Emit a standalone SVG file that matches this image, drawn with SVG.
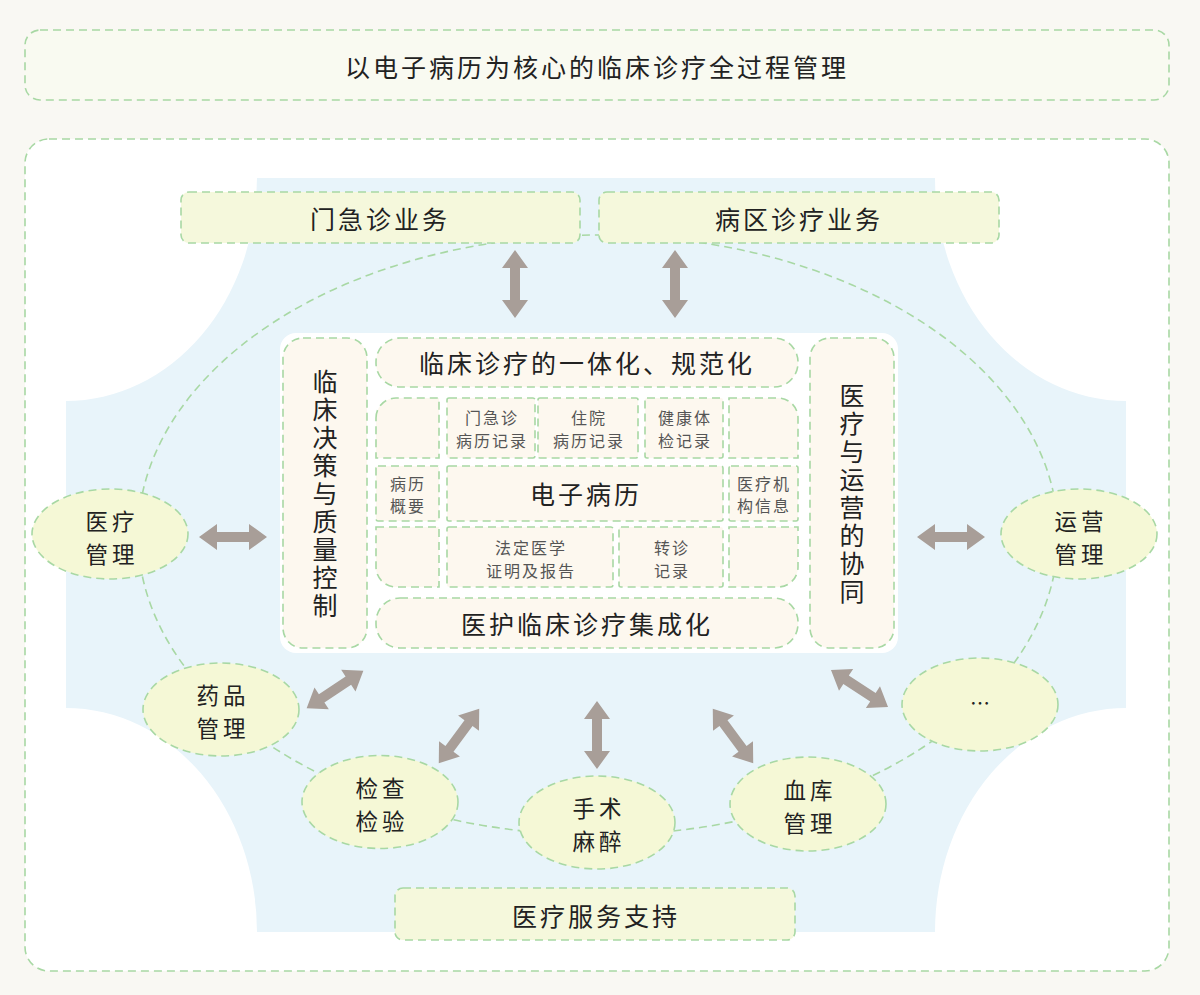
<svg xmlns="http://www.w3.org/2000/svg" xmlns:xlink="http://www.w3.org/1999/xlink" width="1200" height="995" viewBox="0 0 1200 995">
<style>
.dash{stroke:#a8d8a4;stroke-width:1.6;stroke-dasharray:8 5;}
.t{font-family:"Noto Sans CJK SC","Noto Sans",sans-serif;fill:#222;text-anchor:middle;dominant-baseline:central;}
.big{font-size:25px;letter-spacing:3px;}
.node{font-size:22.5px;letter-spacing:4px;}
.sm{font-size:16px;fill:#555;letter-spacing:2px;}
.vt{font-size:25px;writing-mode:vertical-rl;letter-spacing:3px;}
.cell{fill:#fdf8ef;}
.box{fill:#f5f8dc;}
.ell{fill:#f5f8d6;}
.arr{fill:#a89e98;}
</style>
<defs>
<path id="dbl" d="M-34,0 L-16,-13 L-16,-5 L16,-5 L16,-13 L34,0 L16,13 L16,5 L-16,5 L-16,13 Z"/>
</defs>
<rect x="0" y="0" width="1200" height="995" fill="#f9f8f3"/>
<g id="banner">
<rect x="25" y="30" width="1144" height="70" rx="15" fill="#f9faf1" class="dash"/>
<text class="t big" x="597" y="66">以电子病历为核心的临床诊疗全过程管理</text>
</g>
<g id="container">
<rect x="25" y="139" width="1144" height="832" rx="24" fill="#ffffff" class="dash"/>
<path d="M257,178 H935 A191,223 0 0 0 1126,401 V708 A191,224 0 0 0 935,932 H257 A191,224 0 0 0 66,708 V401 A191,223 0 0 0 257,178 Z" fill="#e8f4fa"/>
</g>
<g id="connectors">
<ellipse cx="598" cy="535" rx="460" ry="300" fill="none" class="dash"/>
<use xlink:href="#dbl" class="arr" transform="translate(515,284) rotate(90)"/>
<use xlink:href="#dbl" class="arr" transform="translate(675,284) rotate(90)"/>
<use xlink:href="#dbl" class="arr" transform="translate(233,537)"/>
<use xlink:href="#dbl" class="arr" transform="translate(951,537)"/>
<use xlink:href="#dbl" class="arr" transform="translate(335,689.5) rotate(-33.5)"/>
<use xlink:href="#dbl" class="arr" transform="translate(459,736) rotate(-53.5)"/>
<use xlink:href="#dbl" class="arr" transform="translate(597,735) rotate(90)"/>
<use xlink:href="#dbl" class="arr" transform="translate(733,736) rotate(53.5)"/>
<use xlink:href="#dbl" class="arr" transform="translate(859.5,688.5) rotate(33)"/>
</g>
<g id="menjizhen">
<rect x="181" y="192" width="399" height="51" rx="8" class="box dash"/>
<text class="t big" x="380" y="218">门急诊业务</text>
</g>
<g id="bingqu">
<rect x="599" y="192" width="400" height="51" rx="8" class="box dash"/>
<text class="t big" x="799" y="218">病区诊疗业务</text>
</g>
<g id="core">
<rect x="280" y="333" width="618" height="320" rx="16" fill="#ffffff"/>
</g>
<g id="left-col">
<rect x="283" y="338" width="84" height="310" rx="20" class="cell dash"/>
<text class="t vt" x="325" y="495">临床决策与质量控制</text>
</g>
<g id="right-col">
<rect x="810" y="338" width="84" height="310" rx="20" class="cell dash"/>
<text class="t vt" x="852" y="495">医疗与运营的协同</text>
</g>
<g id="top-row">
<rect x="376" y="338" width="422" height="49" rx="24" class="cell dash"/>
<text class="t big" x="587" y="362">临床诊疗的一体化、规范化</text>
</g>
<g id="bottom-row">
<rect x="376" y="598" width="422" height="50" rx="24" class="cell dash"/>
<text class="t big" x="587" y="623">医护临床诊疗集成化</text>
</g>
<g id="cell-r1-empty-left"><path d="M376,418 A20,20 0 0 1 396,398 H439 V458 H376 Z" class="cell dash"/></g>
<g id="cell-menjizhen">
<rect x="447" y="398" width="88" height="60" rx="2" class="cell dash"/>
<text class="t sm"><tspan x="492" y="417">门急诊</tspan><tspan x="492" y="440">病历记录</tspan></text>
</g>
<g id="cell-zhuyuan">
<rect x="538" y="398" width="100" height="60" rx="2" class="cell dash"/>
<text class="t sm"><tspan x="589" y="417">住院</tspan><tspan x="589" y="440">病历记录</tspan></text>
</g>
<g id="cell-tijian">
<rect x="645" y="398" width="78" height="60" rx="2" class="cell dash"/>
<text class="t sm"><tspan x="685" y="417">健康体</tspan><tspan x="685" y="440">检记录</tspan></text>
</g>
<g id="cell-r1-empty-right"><path d="M729,398 H778 A20,20 0 0 1 798,418 V458 H729 Z" class="cell dash"/></g>
<g id="cell-gaiyao">
<rect x="376" y="466" width="63" height="55" rx="2" class="cell dash"/>
<text class="t sm"><tspan x="408" y="483">病历</tspan><tspan x="408" y="505">概要</tspan></text>
</g>
<g id="cell-emr">
<rect x="447" y="466" width="276" height="55" rx="2" class="cell dash"/>
<text class="t big" x="586" y="493">电子病历</text>
</g>
<g id="cell-jigou">
<rect x="729" y="466" width="69" height="55" rx="2" class="cell dash"/>
<text class="t sm"><tspan x="764" y="483">医疗机</tspan><tspan x="764" y="505">构信息</tspan></text>
</g>
<g id="cell-r3-empty-left"><path d="M376,527 H439 V587 H396 A20,20 0 0 1 376,567 Z" class="cell dash"/></g>
<g id="cell-fading">
<rect x="447" y="527" width="166" height="60" rx="2" class="cell dash"/>
<text class="t sm"><tspan x="531" y="547">法定医学</tspan><tspan x="531" y="570">证明及报告</tspan></text>
</g>
<g id="cell-zhuanzhen">
<rect x="619" y="527" width="104" height="60" rx="2" class="cell dash"/>
<text class="t sm"><tspan x="672" y="547">转诊</tspan><tspan x="672" y="570">记录</tspan></text>
</g>
<g id="cell-r3-empty-right"><path d="M729,527 H798 V567 A20,20 0 0 1 778,587 H729 Z" class="cell dash"/></g>
<g id="yiliao-guanli">
<ellipse cx="110" cy="534" rx="78" ry="45" class="ell dash"/>
<text class="t node"><tspan x="112" y="519.5">医疗</tspan><tspan x="112" y="552.5">管理</tspan></text>
</g>
<g id="yunying-guanli">
<ellipse cx="1079" cy="534" rx="78" ry="45" class="ell dash"/>
<text class="t node"><tspan x="1081" y="519.5">运营</tspan><tspan x="1081" y="552.5">管理</tspan></text>
</g>
<g id="yaopin-guanli">
<ellipse cx="221" cy="709.5" rx="78" ry="46.5" class="ell dash"/>
<text class="t node"><tspan x="223" y="693.5">药品</tspan><tspan x="223" y="726.5">管理</tspan></text>
</g>
<g id="jiancha-jianyan">
<ellipse cx="380" cy="802" rx="78" ry="46.5" class="ell dash"/>
<text class="t node"><tspan x="382" y="786.5">检查</tspan><tspan x="382" y="819.5">检验</tspan></text>
</g>
<g id="shoushu-mazui">
<ellipse cx="597" cy="822.5" rx="78" ry="46.5" class="ell dash"/>
<text class="t node"><tspan x="599" y="806.5">手术</tspan><tspan x="599" y="839.5">麻醉</tspan></text>
</g>
<g id="xueku-guanli">
<ellipse cx="808" cy="804" rx="78" ry="47" class="ell dash"/>
<text class="t node"><tspan x="810" y="788.5">血库</tspan><tspan x="810" y="821.5">管理</tspan></text>
</g>
<g id="more">
<ellipse cx="980" cy="704.5" rx="78" ry="46.5" class="ell dash"/>
<text class="t" x="980" y="702" style="font-size:20px">…</text>
</g>
<g id="fuwu-zhichi">
<rect x="395" y="888" width="400" height="52" rx="8" class="box dash"/>
<text class="t big" x="596" y="915">医疗服务支持</text>
</g>
</svg>
